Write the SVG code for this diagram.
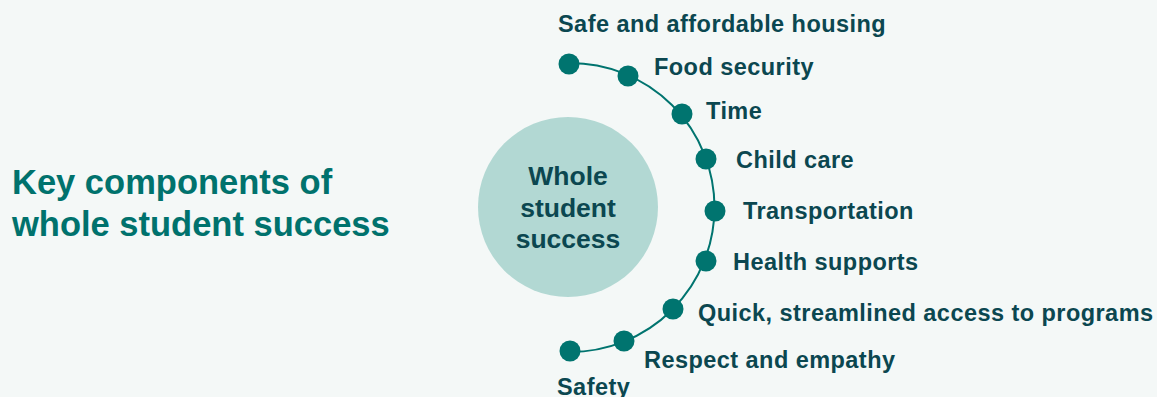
<svg xmlns="http://www.w3.org/2000/svg" width="1157" height="397" viewBox="0 0 1157 397">
  <style>
    .title { font-family: "Liberation Sans", Arial, sans-serif; font-weight: bold; font-size: 34.5px; fill: #00726d; }
    .hub { font-family: "Liberation Sans", Arial, sans-serif; font-weight: bold; font-size: 26.5px; fill: #0b4750; text-anchor: middle; }
    .label { font-family: "Liberation Sans", Arial, sans-serif; font-weight: bold; font-size: 23.5px; letter-spacing: 0.45px; fill: #0b4750; }
    .dot { fill: #00746f; }
    .arc { fill: none; stroke: #00746f; stroke-width: 2; }
  </style>
  <rect width="1157" height="397" fill="#f4f8f7"/>

  <g id="title">
    <text class="title" x="12" y="194">Key components of</text>
    <text class="title" x="12" y="236">whole student success</text>
  </g>

  <g id="hub">
    <circle cx="568" cy="207" r="90" fill="#b2d8d3"/>
    <text class="hub" x="568" y="185">Whole</text>
    <text class="hub" x="568" y="217">student</text>
    <text class="hub" x="568" y="248">success</text>
  </g>

  <!-- half-circle track the dots sit on -->
  <g id="connectors">
    <path class="arc" d="M570 63 A144.5 144.5 0 0 1 570 352"/>
  </g>

  <g id="node-housing"><circle class="dot" cx="569" cy="64" r="10.5"/><text class="label" x="558" y="32">Safe and affordable housing</text></g>
  <g id="node-food"><circle class="dot" cx="628" cy="76" r="10.5"/><text class="label" x="654" y="75">Food security</text></g>
  <g id="node-time"><circle class="dot" cx="682" cy="114" r="10.5"/><text class="label" x="706" y="119">Time</text></g>
  <g id="node-childcare"><circle class="dot" cx="706" cy="159" r="10.5"/><text class="label" x="736" y="168">Child care</text></g>
  <g id="node-transport"><circle class="dot" cx="715" cy="211" r="10.5"/><text class="label" x="743" y="219">Transportation</text></g>
  <g id="node-health"><circle class="dot" cx="706" cy="261" r="10.5"/><text class="label" x="733" y="270">Health supports</text></g>
  <g id="node-access"><circle class="dot" cx="673" cy="309" r="10.5"/><text class="label" x="698" y="321">Quick, streamlined access to programs</text></g>
  <g id="node-respect"><circle class="dot" cx="624" cy="341" r="10.5"/><text class="label" x="644" y="368">Respect and empathy</text></g>
  <g id="node-safety"><circle class="dot" cx="570" cy="351" r="10.5"/><text class="label" x="557" y="395">Safety</text></g>
</svg>
